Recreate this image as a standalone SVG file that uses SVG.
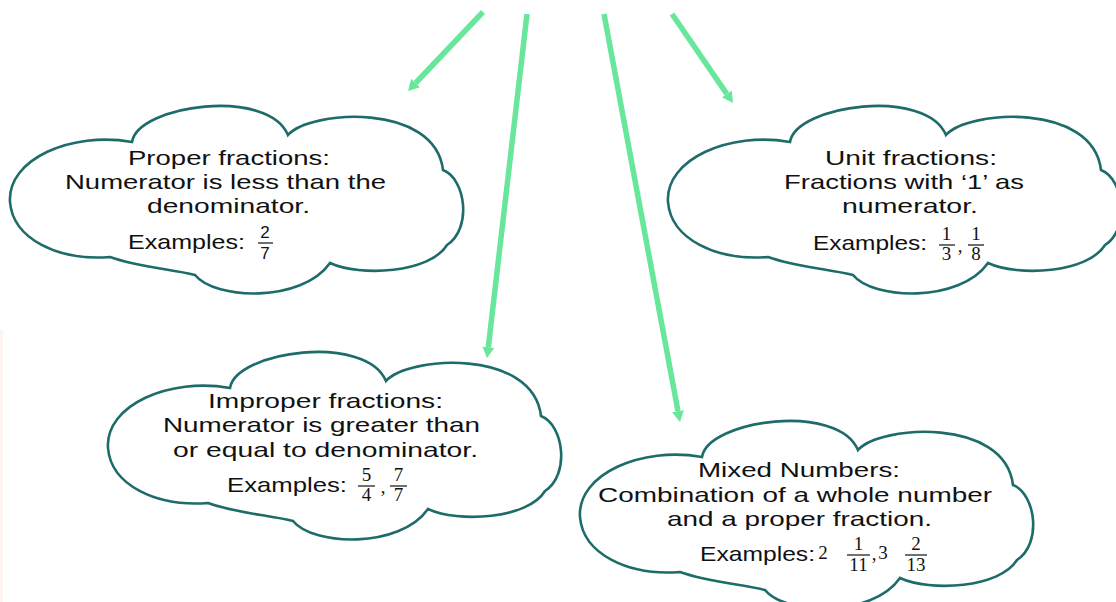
<svg xmlns="http://www.w3.org/2000/svg" xmlns:xlink="http://www.w3.org/1999/xlink" width="1116" height="602" viewBox="0 0 1116 602">
  <style>
    .cloud { fill: #ffffff; stroke: #1e6c6a; stroke-width: 2.6; stroke-linejoin: miter; }
    .t { font-family: "Liberation Sans", Arial, sans-serif; font-size: 21px; fill: #111111; text-anchor: middle; }
    .ts { font-family: "Liberation Sans", Arial, sans-serif; font-size: 21px; fill: #111111; text-anchor: start; }
    .d { font-family: "Liberation Serif", "DejaVu Serif", serif; font-size: 19px; fill: #111111; text-anchor: middle; }
    .ds { font-family: "Liberation Sans", Arial, sans-serif; font-size: 17px; fill: #111111; text-anchor: middle; }
    .bar { stroke: #111111; stroke-width: 1.2; }
    .arrow { fill: none; stroke: #68e69c; stroke-width: 5.5; stroke-linecap: butt; marker-end: url(#ah); }
  </style>
  <defs>
    <marker id="ah" viewBox="0 0 11 12" refX="0" refY="6" markerWidth="11" markerHeight="12" markerUnits="userSpaceOnUse" orient="auto">
      <path d="M0,0 L11,6 L0,12 Z" fill="#68e69c"/>
    </marker>
    <path id="cloudShape" class="cloud" d="M122,35 C128,-2 258,-20 278,28 C300,3 425,-5 433,63 C456,72 462,122 437,138 C420,166 350,170 320,156 C292,196 205,193 185,168 C160,162 128,160 100,150 C48,154 3,132 0,95 C-3,52 62,24 122,35 Z"/>
  </defs>

  <rect x="0" y="330" width="3" height="272" fill="#fdf3ef"/>

  <g id="connectors">
    <path class="arrow" d="M483,12 L415.6,83"/>
    <path class="arrow" d="M527,14 L488.3,347.1"/>
    <path class="arrow" d="M604,14 L678,411.2"/>
    <path class="arrow" d="M672,14 L726.8,93.9"/>
  </g>

  <g id="proper">
    <use xlink:href="#cloudShape" href="#cloudShape" transform="translate(10,107)"/>
    <text class="t" x="229" y="165" textLength="202" lengthAdjust="spacingAndGlyphs">Proper fractions:</text>
    <text class="t" x="225.5" y="189" textLength="321" lengthAdjust="spacingAndGlyphs">Numerator is less than the</text>
    <text class="t" x="228.5" y="213" textLength="163" lengthAdjust="spacingAndGlyphs">denominator.</text>
    <text class="ts" x="128" y="249" textLength="117" lengthAdjust="spacingAndGlyphs">Examples:</text>
    <text class="ds" x="265" y="238">2</text>
    <line class="bar" x1="258" y1="243" x2="273" y2="243"/>
    <text class="ds" x="265" y="259">7</text>
  </g>

  <g id="unit">
    <use xlink:href="#cloudShape" href="#cloudShape" transform="translate(668,107)"/>
    <text class="t" x="911" y="165" textLength="172" lengthAdjust="spacingAndGlyphs">Unit fractions:</text>
    <text class="t" x="904" y="189" textLength="240" lengthAdjust="spacingAndGlyphs">Fractions with ‘1’ as</text>
    <text class="t" x="910" y="213" textLength="136" lengthAdjust="spacingAndGlyphs">numerator.</text>
    <text class="ts" x="813" y="250" textLength="114" lengthAdjust="spacingAndGlyphs">Examples:</text>
    <text class="d" x="946.5" y="240">1</text>
    <line class="bar" x1="939" y1="245" x2="955" y2="245"/>
    <text class="d" x="946.5" y="260">3</text>
    <text class="d" x="960" y="252">,</text>
    <text class="d" x="976" y="240">1</text>
    <line class="bar" x1="968" y1="245" x2="984" y2="245"/>
    <text class="d" x="976" y="260">8</text>
  </g>

  <g id="improper">
    <use xlink:href="#cloudShape" href="#cloudShape" transform="translate(108,353)"/>
    <text class="t" x="325.5" y="408" textLength="235" lengthAdjust="spacingAndGlyphs">Improper fractions:</text>
    <text class="t" x="321.5" y="432" textLength="317" lengthAdjust="spacingAndGlyphs">Numerator is greater than</text>
    <text class="t" x="325.5" y="457" textLength="305" lengthAdjust="spacingAndGlyphs">or equal to denominator.</text>
    <text class="ts" x="227" y="492" textLength="120" lengthAdjust="spacingAndGlyphs">Examples:</text>
    <text class="d" x="366.5" y="481">5</text>
    <line class="bar" x1="358" y1="486" x2="375" y2="486"/>
    <text class="d" x="366.5" y="501">4</text>
    <text class="d" x="383" y="493">,</text>
    <text class="d" x="398.5" y="481">7</text>
    <line class="bar" x1="390" y1="486" x2="407" y2="486"/>
    <text class="d" x="398.5" y="501">7</text>
  </g>

  <g id="mixed">
    <use xlink:href="#cloudShape" href="#cloudShape" transform="translate(580,422)"/>
    <text class="t" x="799" y="477" textLength="202" lengthAdjust="spacingAndGlyphs">Mixed Numbers:</text>
    <text class="t" x="795" y="502" textLength="394" lengthAdjust="spacingAndGlyphs">Combination of a whole number</text>
    <text class="t" x="799.5" y="526" textLength="265" lengthAdjust="spacingAndGlyphs">and a proper fraction.</text>
    <text class="ts" x="700" y="561" textLength="115" lengthAdjust="spacingAndGlyphs">Examples:</text>
    <text class="d" x="823" y="559">2</text>
    <text class="d" x="858.5" y="550">1</text>
    <line class="bar" x1="847" y1="555" x2="870" y2="555"/>
    <text class="d" x="858.5" y="571">11</text>
    <text class="d" x="874" y="560">,</text>
    <text class="d" x="883" y="559">3</text>
    <text class="d" x="916" y="550">2</text>
    <line class="bar" x1="905" y1="555" x2="927" y2="555"/>
    <text class="d" x="916" y="571">13</text>
  </g>
</svg>
